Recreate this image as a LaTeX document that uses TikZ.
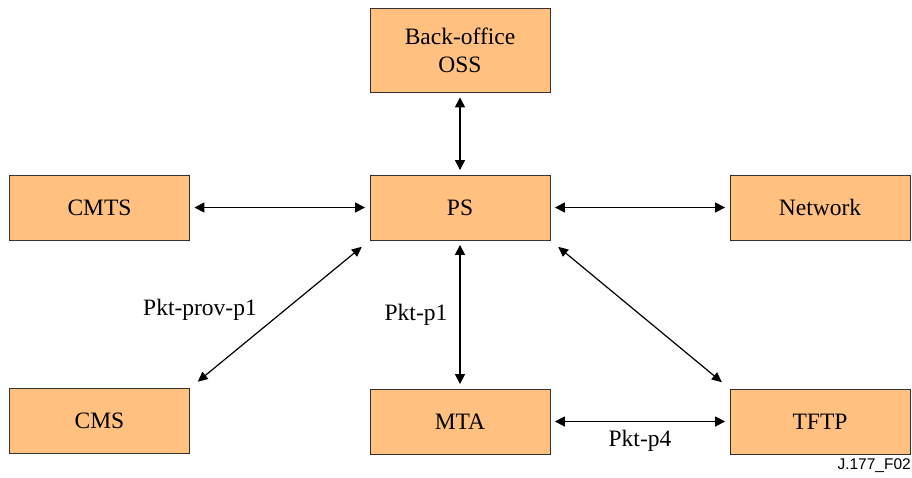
\documentclass[tikz,border=0pt]{standalone}
\usepackage{fontspec}
\setmainfont{Liberation Serif}
\newfontfamily\boxserif{Liberation Serif}
\newfontfamily\labelsans{Liberation Sans}
\usetikzlibrary{arrows.meta}
\definecolor{boxfill}{RGB}{255,192,128}
\definecolor{boxline}{RGB}{50,50,50}
\begin{document}
\begin{tikzpicture}[x=1pt,y=-1pt,
  box/.style={draw=boxline,line width=0.9pt,fill=boxfill,minimum width=180pt,minimum height=65pt,inner sep=0pt,align=center,font=\boxserif\fontsize{23.5}{28}\selectfont},
  thick arrow/.style={line width=1.6pt,{Triangle[length=10pt,width=10pt]}-{Triangle[length=10pt,width=10pt]},shorten <=4.5pt,shorten >=4.5pt},
  thin arrow/.style={line width=1.2pt,{Triangle[length=10pt,width=9pt]}-{Triangle[length=10pt,width=9pt]},shorten <=10pt,shorten >=10pt},
  lbl/.style={font=\boxserif\fontsize{23.5}{25}\selectfont,inner sep=0pt}]
\useasboundingbox (0,0) rectangle (912,477);
\node[box,minimum height=84pt] (oss) at (460,50.5) {Back-office\\OSS};
\node[box] (cmts) at (99.5,207.5) {CMTS};
\node[box] (ps) at (460,207.5) {PS};
\node[box] (net) at (820,207.5) {Network};
\node[box] (cms) at (99.5,421) {CMS};
\node[box] (mta) at (460,421.5) {MTA};
\node[box] (tftp) at (820,421.5) {TFTP};
\draw[thick arrow] (oss) -- (ps);
\draw[thick arrow] (cmts) -- (ps);
\draw[thick arrow] (ps) -- (net);
\draw[thick arrow] (ps) -- (mta);
\draw[thick arrow] (mta) -- (tftp);
\draw[thin arrow] (ps.south west) -- (cms.north east);
\draw[thin arrow] (ps.south east) -- (tftp.north west);
\node[lbl] (l1) at (200,310) {Pkt-prov-p1};
\node[lbl] (l2) at (416,315) {Pkt-p1};
\node[lbl] (l3) at (640,441) {Pkt-p4};
\node[anchor=east,inner sep=0pt,font=\labelsans\fontsize{15.5}{16}\selectfont] (fig) at (911,466) {J.177\_F02};
\end{tikzpicture}
\end{document}
